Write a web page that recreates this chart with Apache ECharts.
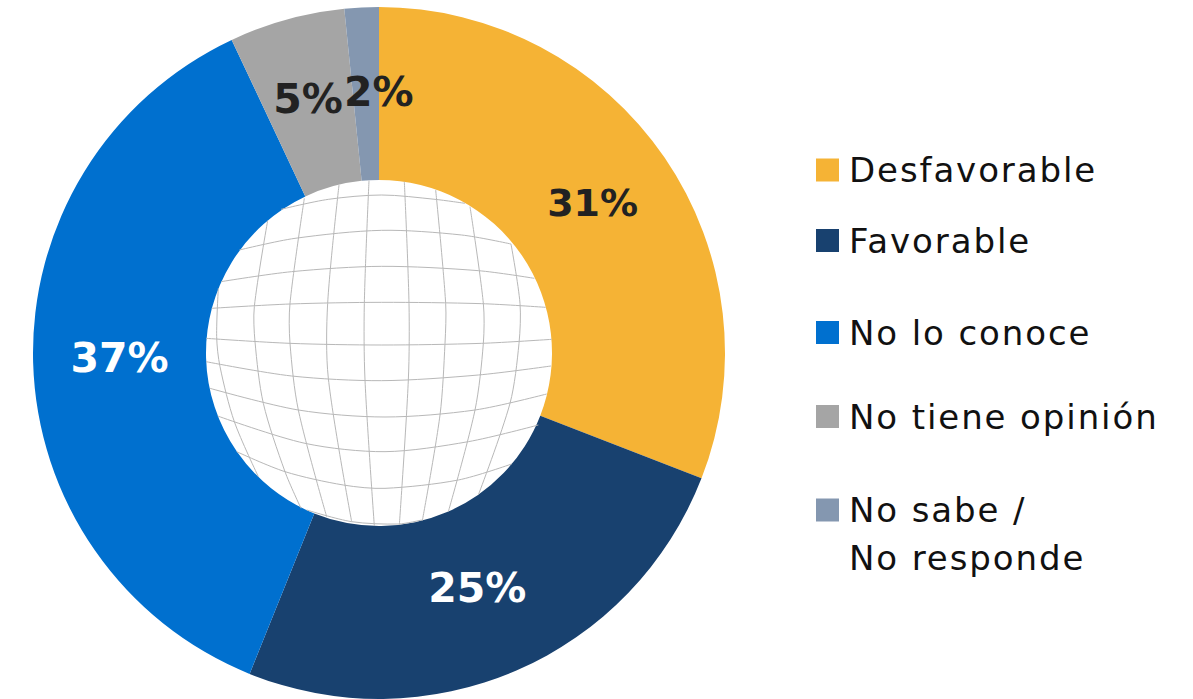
<!DOCTYPE html>
<html><head><meta charset="utf-8">
<style>html,body{margin:0;padding:0;background:#fff}#c{width:1193px;height:699px}
#c text[style*="34px"]{letter-spacing:1.9px}</style>
<script src="https://cdn.jsdelivr.net/npm/echarts@6/dist/echarts.min.js"></script>
</head><body><div id="c"></div>
<script>
const categories = ['Desfavorable', 'Favorable', 'No lo conoce', 'No tiene opinión', 'No sabe / No responde'];
const values = [30.9, 25.2, 36.9, 5.4, 1.6];
const sliceColors = ['#F5B335', '#18416F', '#0070CF', '#A5A5A5', '#8497B0'];
const labelColors = ['#222222', '#FFFFFF', '#FFFFFF', '#222222', '#222222'];
const labelSizes = [38, 41, 41, 41, 41];
const labelShifts = [[-3, -2], [-6, -6], [3, -2], [-1, -1], [13, 1]];
const legendCentres = [170, 240.5, 332.5, 416.5, 510];
const FONT = '"DejaVu Sans"';

// Decorative globe-grid backdrop in the doughnut hole (crop coordinates of the reference zoom)
const globeLines = [
  [[258,118],[400,88],[560,75],[720,88],[810,100]],
  [[133,240],[300,205],[560,181],[800,195],[948,222]],
  [[78,335],[290,305],[560,289],[850,302],[1018,325]],
  [[50,415],[285,402],[560,397],[860,401],[1052,412]],
  [[33,505],[285,520],[560,525],[860,520],[1070,508]],
  [[33,575],[290,618],[560,632],[850,615],[1068,588]],
  [[45,655],[310,720],[570,741],[840,720],[1055,672]],
  [[68,738],[330,820],[570,845],[820,815],[1030,765]],
  [[125,845],[270,905],[445,945],[570,955],[790,930],[950,882]],
  [[335,1020],[470,1055],[610,1062],[680,1050]],
  [[70,355],[65,500],[75,590],[118,755],[190,920]],
  [[218,152],[178,410],[180,515],[205,700],[270,905],[318,1015]],
  [[328,85],[285,400],[285,520],[310,720],[395,1040]],
  [[432,45],[398,400],[400,625],[470,1055]],
  [[522,32],[508,400],[510,630],[538,1068]],
  [[628,35],[642,400],[640,630],[613,1065]],
  [[722,60],[752,400],[750,520],[735,735],[682,1052]],
  [[825,110],[865,400],[865,520],[840,720],[760,1025]],
  [[948,222],[975,400],[972,520],[945,700],[850,975]]
];

const chart = echarts.init(document.getElementById('c'), null, { renderer: 'svg' });
const legends = categories.map((name, i) => ({
  orient: 'vertical',
  left: 816,
  top: legendCentres[i] - 20,
  padding: 0,
  icon: 'rect',
  itemWidth: 23,
  itemHeight: 23,
  selectedMode: false,
  data: [name],
  formatter: n => n.startsWith('No sabe') ? 'No sabe /' : n,
  textStyle: { fontFamily: FONT, fontSize: 34, color: '#111111', height: 40, lineHeight: 40, padding: [0, 0, 0, 5] }
}));

chart.setOption({
  animation: false,
  backgroundColor: '#ffffff',
  color: sliceColors,
  legend: legends,
  graphic: [
    ...globeLines.map(pts => ({
      type: 'polyline',
      z: 10,
      silent: true,
      shape: { points: pts.map(p => [195 + p[0] / 3, 170 + p[1] / 3]), smooth: 0.3 },
      style: { stroke: '#B8B8B8', lineWidth: 1, fill: null }
    })),
    {
      type: 'text', left: 849, top: 541, z: 10,
      style: { text: 'No responde', font: '34px ' + FONT, fill: '#111111' }
    }
  ],
  series: [{
    type: 'pie',
    center: [379, 353],
    radius: [173, 346],
    startAngle: 90,
    clockwise: true,
    avoidLabelOverlap: false,
    minShowLabelAngle: 0,
    labelLine: { show: false },
    labelLayout: p => ({ hideOverlap: false, dx: labelShifts[p.dataIndex][0], dy: labelShifts[p.dataIndex][1] }),
    data: categories.map((name, i) => ({
      name,
      value: values[i],
      itemStyle: { color: sliceColors[i] },
      label: { color: labelColors[i], fontSize: labelSizes[i] }
    })),
    label: {
      show: true,
      position: 'inside',
      fontFamily: FONT,
      fontWeight: 'bold',
      formatter: p => Math.round(p.value) + '%'
    },
    emphasis: { disabled: true }
  }]
});
</script></body></html>
